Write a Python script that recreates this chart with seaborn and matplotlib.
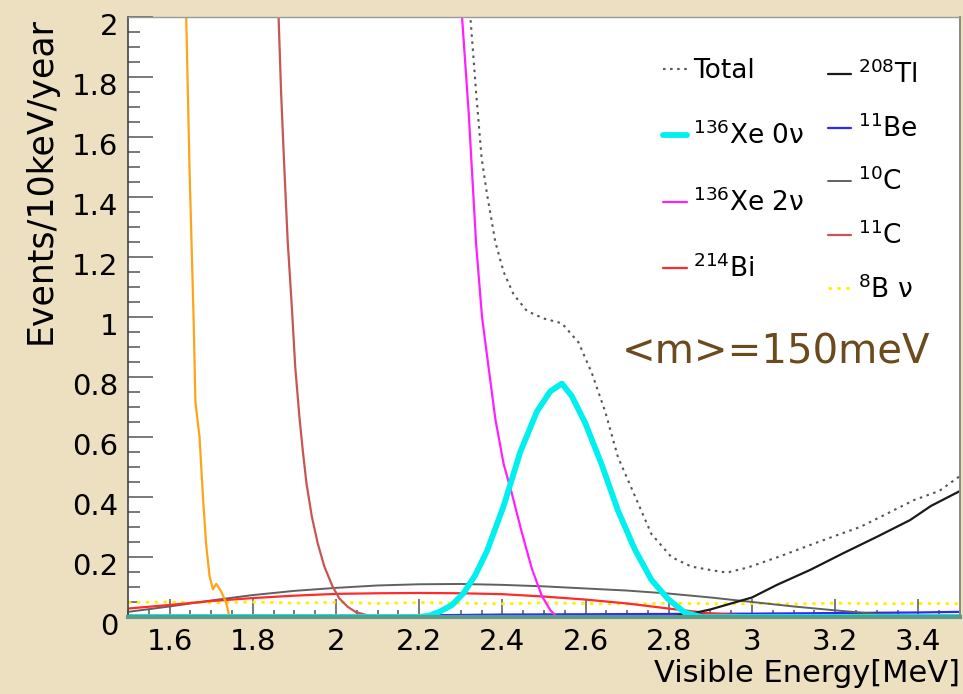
import matplotlib
matplotlib.use("Agg")
import matplotlib.pyplot as plt
from matplotlib.ticker import MultipleLocator, FuncFormatter
from matplotlib.transforms import ScaledTranslation
import seaborn as sns

# ---- spectra: visible energy [MeV] vs events / 10 keV / year ----
# steep low-energy component (orange, not in legend)
low_e = [1.636, 1.640, 1.648, 1.658, 1.662, 1.666, 1.672, 1.680, 1.688, 1.696,
         1.704, 1.712, 1.724, 1.736, 1.744, 1.760, 3.500]
low_y = [2.10, 2.00, 1.49, 0.98, 0.72, 0.67, 0.60, 0.405, 0.24, 0.137,
         0.092, 0.11, 0.085, 0.047, 0.0, 0.0, 0.0]

c11_e = [1.858, 1.862, 1.868, 1.876, 1.884, 1.894, 1.902, 1.912, 1.920, 1.929,
         1.942, 1.956, 1.972, 1.992, 2.008, 2.028, 2.048, 2.072, 2.095, 3.500]
c11_y = [2.10, 2.00, 1.75, 1.49, 1.25, 1.03, 0.834, 0.668, 0.557, 0.446,
         0.334, 0.246, 0.168, 0.101, 0.062, 0.034, 0.016, 0.007, 0.0, 0.0]

xe2v_e = [2.299, 2.303, 2.319, 2.337, 2.351, 2.367, 2.383, 2.403, 2.423, 2.447,
          2.471, 2.495, 2.515, 2.531, 3.500]
xe2v_y = [2.10, 2.00, 1.68, 1.24, 1.00, 0.83, 0.66, 0.51, 0.41, 0.28,
          0.16, 0.07, 0.023, 0.0, 0.0]

xe0v_e = [1.500, 2.200, 2.223, 2.250, 2.279, 2.307, 2.335, 2.363, 2.403, 2.443,
          2.483, 2.515, 2.543, 2.567, 2.599, 2.639, 2.678, 2.718, 2.758, 2.798,
          2.838, 2.878, 3.500]
xe0v_y = [0.0, 0.0, 0.004, 0.018, 0.04, 0.08, 0.14, 0.22, 0.37, 0.55,
          0.685, 0.752, 0.778, 0.736, 0.647, 0.507, 0.354, 0.226, 0.124, 0.06,
          0.015, 0.0, 0.0]

total_e = [2.318, 2.323, 2.337, 2.350, 2.363, 2.383, 2.403, 2.427, 2.459, 2.499,
           2.543, 2.583, 2.615, 2.647, 2.678, 2.718, 2.758, 2.806, 2.854, 2.902,
           2.940, 2.990, 3.069, 3.140, 3.205, 3.260, 3.308, 3.390, 3.450, 3.500]
total_y = [2.10, 2.00, 1.745, 1.53, 1.41, 1.25, 1.15, 1.075, 1.02, 0.995,
           0.979, 0.915, 0.813, 0.685, 0.532, 0.405, 0.277, 0.20, 0.168, 0.156,
           0.148, 0.165, 0.203, 0.24, 0.273, 0.30, 0.333, 0.39, 0.42, 0.47]

tl208_e = [1.50, 2.80, 2.85, 2.90, 2.95, 3.00, 3.06, 3.14, 3.22, 3.30, 3.38, 3.43, 3.50]
tl208_y = [0.0, 0.0, 0.01, 0.025, 0.045, 0.065, 0.107, 0.157, 0.213, 0.267, 0.323, 0.37, 0.42]

c10_e = [1.5, 1.6, 1.7, 1.8, 1.9, 2.0, 2.1, 2.2, 2.3, 2.4, 2.5,
         2.6, 2.7, 2.8, 2.9, 3.0, 3.1, 3.2, 3.3, 3.4, 3.5]
c10_y = [0.017, 0.035, 0.055, 0.073, 0.087, 0.097, 0.105, 0.109, 0.11, 0.107, 0.102,
         0.095, 0.088, 0.078, 0.065, 0.05, 0.035, 0.022, 0.01, 0.004, 0.002]

bi214_e = [1.5, 1.6, 1.7, 1.8, 1.9, 2.0, 2.1, 2.2, 2.3, 2.4, 2.5,
           2.6, 2.7, 2.8, 2.9, 3.0, 3.5]
bi214_y = [0.028, 0.04, 0.053, 0.063, 0.071, 0.077, 0.079, 0.08, 0.079, 0.076, 0.068,
           0.058, 0.045, 0.028, 0.012, 0.004, 0.0]

b8_e = [1.5, 1.6, 1.7, 1.8, 1.9, 2.0, 2.1, 2.2, 2.3, 2.4, 2.5,
        2.6, 2.7, 2.8, 2.9, 3.0, 3.1, 3.2, 3.3, 3.4, 3.5]
b8_y = [0.048, 0.05, 0.047, 0.05, 0.046, 0.049, 0.045, 0.048, 0.046, 0.044, 0.047,
        0.045, 0.043, 0.046, 0.044, 0.045, 0.043, 0.046, 0.044, 0.045, 0.044]

be11_e = [1.5, 2.15, 2.25, 2.4, 2.6, 2.8, 3.0, 3.2, 3.4, 3.5]
be11_y = [0.0, 0.0, 0.006, 0.008, 0.009, 0.01, 0.011, 0.013, 0.015, 0.017]

# ---- figure ----
sns.set_style("ticks")
plt.rcParams["font.family"] = ["DejaVu Sans"]
plt.rcParams["mathtext.fontset"] = "dejavusans"
plt.rcParams["text.color"] = "black"
plt.rcParams["axes.labelcolor"] = "black"

fig = plt.figure(figsize=(9.63, 6.94), dpi=100, facecolor="#ede0c0")
ax = fig.add_axes([0.1329, 0.1110, 0.8640, 0.8645])
ax.set_facecolor("white")


def draw(e, r, **kw):
    sns.lineplot(x=e, y=r, ax=ax, sort=False, estimator=None, legend=False, **kw)


draw(b8_e, b8_y, color="#ffee00", lw=2.0, linestyle=(0, (1.2, 2.0)), label="$^{8}$B ν")
draw(be11_e, be11_y, color="#2a2aff", lw=1.6, label="$^{11}$Be")
draw(c10_e, c10_y, color="#606060", lw=1.4, label="$^{10}$C")
draw(bi214_e, bi214_y, color="#ff2a2a", lw=1.6, label="$^{214}$Bi")
draw(low_e, low_y, color="#ffa31a", lw=1.6)
draw(c11_e, c11_y, color="#c85552", lw=1.6, label="$^{11}$C")
draw(tl208_e, tl208_y, color="#1a1a1a", lw=1.6, label="$^{208}$Tl")
draw(xe2v_e, xe2v_y, color="#ff20ff", lw=1.6, label="$^{136}$Xe 2ν")
draw(xe0v_e, xe0v_y, color="#00f0f0", lw=4.2, label="$^{136}$Xe 0ν")
draw(total_e, total_y, color="#555555", lw=1.5, linestyle=(0, (1.2, 2.2)), label="Total")

ax.set_xlim(1.5, 3.5)
ax.set_ylim(0, 2)

# ---- axes styling ----
ax.xaxis.set_major_locator(MultipleLocator(0.2))
ax.xaxis.set_minor_locator(MultipleLocator(0.05))
ax.yaxis.set_major_locator(MultipleLocator(0.2))
ax.yaxis.set_minor_locator(MultipleLocator(0.05))
fmt = FuncFormatter(lambda v, p: f"{v:g}")
ax.xaxis.set_major_formatter(fmt)
ax.yaxis.set_major_formatter(fmt)

ax.tick_params(which="both", direction="in", colors="#555555", labelcolor="black",
               top=False, right=False)
ax.tick_params(axis="y", which="major", length=18, width=1.1, pad=7, labelsize=21)
ax.tick_params(axis="y", which="minor", length=8.5, width=1.1)
ax.tick_params(axis="x", which="major", length=13, width=1.1, pad=8, labelsize=21)
ax.tick_params(axis="x", which="minor", length=5, width=1.1)

shift = ScaledTranslation(0, -5 / 72, fig.dpi_scale_trans)
for lab in ax.get_yticklabels():
    lab.set_transform(lab.get_transform() + shift)

for side, col, w in [("left", "#444444", 1.2), ("top", "#999999", 1.0),
                     ("right", "#888888", 1.4), ("bottom", "#5b9b8c", 3.0)]:
    ax.spines[side].set_color(col)
    ax.spines[side].set_linewidth(w)
    ax.spines[side].set_visible(True)

ax.set_ylabel("Events/10keV/year", fontsize=25, loc="top", labelpad=10, color="black")
ax.set_xlabel("Visible Energy[MeV]", fontsize=22, loc="right", labelpad=2, color="black")

# ---- legends (two columns) ----
handles, labels = ax.get_legend_handles_labels()
lookup = dict(zip(labels, handles))
col1 = ["Total", "$^{136}$Xe 0ν", "$^{136}$Xe 2ν", "$^{214}$Bi"]
col2 = ["$^{208}$Tl", "$^{11}$Be", "$^{10}$C", "$^{11}$C", "$^{8}$B ν"]

leg1 = ax.legend([lookup[k] for k in col1], col1, loc="upper left",
                 bbox_to_anchor=(0.643, 0.932), frameon=False, fontsize=19,
                 handlelength=0.9, handletextpad=0.25, labelspacing=1.44,
                 borderpad=0, borderaxespad=0, labelcolor="black")
ax.add_artist(leg1)
ax.legend([lookup[k] for k in col2], col2, loc="upper left",
          bbox_to_anchor=(0.841, 0.927), frameon=False, fontsize=19,
          handlelength=0.9, handletextpad=0.25, labelspacing=0.95,
          borderpad=0, borderaxespad=0, labelcolor="black")

ax.text(0.594, 0.423, "<m>=150meV", transform=ax.transAxes, fontsize=29,
        color="#6b4a1d", ha="left", va="baseline")

fig.savefig("out.png", dpi=100, facecolor=fig.get_facecolor())
